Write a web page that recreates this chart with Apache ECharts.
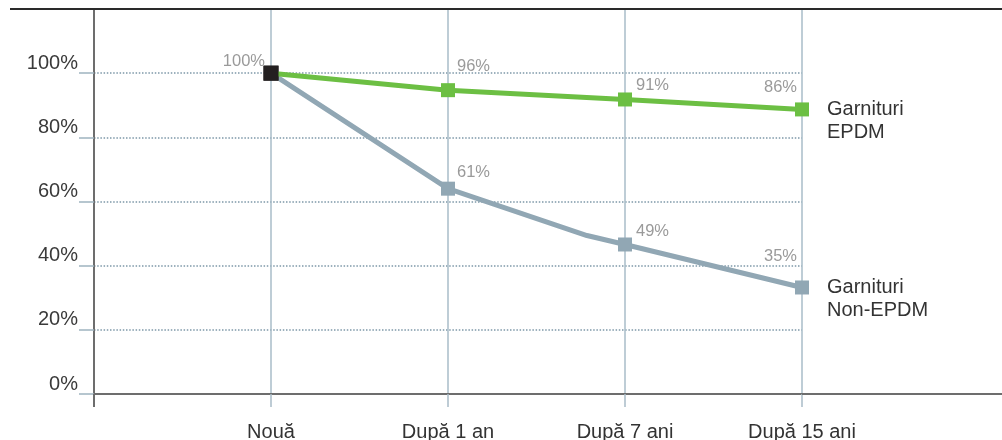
<!DOCTYPE html>
<html>
<head>
<meta charset="utf-8">
<script src="https://cdn.jsdelivr.net/npm/echarts@6/dist/echarts.min.js"></script>
<style>
  html, body { margin: 0; padding: 0; background: #fff; }
  #chart { width: 1002px; height: 440px; }
</style>
</head>
<body>
<div id="chart"></div>
<script>
// categories on the x axis (positions 1..4, 0 is the empty start)
var categories = ['Nouă', 'După 1 an', 'După 7 ani', 'După 15 ani'];
var yTicks = [0, 20, 40, 60, 80, 100];

// where the markers sit in the picture (x = category position)
var epdmPoints = [[1, 100], [2, 94.7], [3, 91.8], [4, 88.7]];
var epdmLabels = ['100%', '96%', '91%', '86%'];
// non-EPDM line has a small bend before "După 7 ani"
var nonEpdmPoints = [[1, 100], [2, 64], [2.785, 49.4], [3, 46.6], [4, 33.2]];
var nonEpdmLabels = ['', '61%', null, '49%', '35%'];

var seriesNames = ['Garnituri\nEPDM', 'Garnituri\nNon-EPDM'];

var FONT = '"Liberation Sans", Arial, sans-serif';
var GREEN = '#6cbf43';
var GREY = '#91a7b4';
var BLACK = '#231f20';

// label placement per point: [align, dx, dy]
var epdmLabelPos = [['right', -6, -12], ['left', 9, -24], ['left', 11, -14], ['right', -5, -22]];
var nonEpdmLabelPos = [null, ['left', 9, -16], null, ['left', 11, -13], ['right', -5, -31]];

function buildData(points, labels, pos) {
  return points.map(function (p, i) {
    var item = { value: p };
    if (labels[i] === null) {
      item.symbol = 'none';
      item.label = { show: false };
      return item;
    }
    if (i === 0) {
      item.itemStyle = { color: BLACK };
      item.symbolSize = 15;
    }
    if (labels[i] && pos[i]) {
      item.label = {
        show: true,
        position: 'inside',
        align: pos[i][0],
        verticalAlign: 'middle',
        offset: [pos[i][1], pos[i][2]],
        formatter: labels[i]
      };
    } else {
      item.label = { show: false };
    }
    return item;
  });
}

var chart = echarts.init(document.getElementById('chart'), null, { renderer: 'canvas' });

var endLabelStyle = {
  show: true,
  distance: 25,
  offset: [0, 12],
  color: '#333',
  fontSize: 20,
  lineHeight: 23,
  fontFamily: FONT
};

var option = {
  animation: false,
  backgroundColor: '#fff',
  textStyle: { fontFamily: FONT },
  grid: {
    left: 94,
    right: 200,
    top: 9,
    bottom: 46,
    containLabel: false,
    outerBoundsMode: 'none'
  },
  xAxis: {
    type: 'value',
    min: 0,
    max: 4,
    interval: 1,
    axisLine: { show: true, onZero: false, lineStyle: { color: '#6d6d6d', width: 2 } },
    axisTick: { show: true, length: 13, lineStyle: { color: '#a9bcc8', width: 1.5 } },
    splitLine: { show: true, lineStyle: { color: '#a9bcc8', width: 1.5 } },
    axisLabel: {
      margin: 28,
      fontSize: 20,
      color: '#333',
      fontFamily: FONT,
      formatter: function (v) { return categories[v - 1] || ''; }
    }
  },
  yAxis: {
    type: 'value',
    min: 0,
    max: 120,
    interval: 20,
    axisLine: { show: true, lineStyle: { color: '#6d6d6d', width: 2 } },
    axisTick: { show: true, length: 15, lineStyle: { color: '#9fb4c0', width: 1.5 } },
    splitLine: { show: true, lineStyle: { color: '#7d98a8', width: 1.5, type: [1.5, 1.7] } },
    axisLabel: {
      margin: 16,
      fontSize: 20,
      color: '#3a3a3a',
      fontFamily: FONT,
      verticalAlign: 'bottom',
      formatter: function (v) { return yTicks.indexOf(v) >= 0 ? v + '%' : ''; }
    }
  },
  series: [
    {
      name: seriesNames[1],
      type: 'line',
      data: buildData(nonEpdmPoints, nonEpdmLabels, nonEpdmLabelPos),
      symbol: 'rect',
      symbolSize: 14,
      showAllSymbol: true,
      lineStyle: { color: GREY, width: 5 },
      itemStyle: { color: GREY },
      label: { color: '#9a9a9a', fontSize: 16.5, fontFamily: FONT },
      endLabel: Object.assign({ formatter: seriesNames[1] }, endLabelStyle),
      emphasis: { disabled: true },
      z: 3
    },
    {
      name: seriesNames[0],
      type: 'line',
      data: buildData(epdmPoints, epdmLabels, epdmLabelPos),
      symbol: 'rect',
      symbolSize: 14,
      showAllSymbol: true,
      lineStyle: { color: GREEN, width: 5 },
      itemStyle: { color: GREEN },
      label: { color: '#9a9a9a', fontSize: 16.5, fontFamily: FONT },
      endLabel: Object.assign({ formatter: seriesNames[0] }, endLabelStyle),
      emphasis: { disabled: true },
      z: 4
    }
  ],
  graphic: [
    // frame line on top
    { type: 'line', z: 100, shape: { x1: 10, y1: 9, x2: 1002, y2: 9 }, style: { stroke: '#2a2a2a', lineWidth: 2 } },
    // x axis line continues past the last category
    { type: 'line', z: 100, shape: { x1: 802, y1: 394, x2: 1002, y2: 394 }, style: { stroke: '#6d6d6d', lineWidth: 2 } },
    // y axis line goes a bit below the x axis
    { type: 'line', z: 100, shape: { x1: 94, y1: 394, x2: 94, y2: 407 }, style: { stroke: '#6d6d6d', lineWidth: 2 } }
  ]
};

chart.setOption(option);
</script>
</body>
</html>
